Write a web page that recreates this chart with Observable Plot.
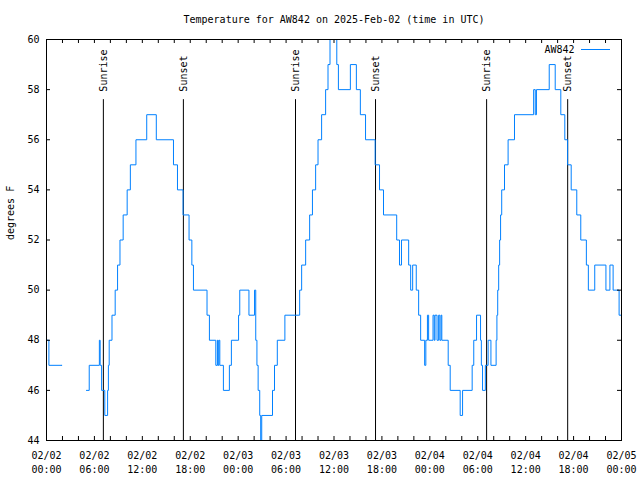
<!DOCTYPE html>
<html><head><meta charset="utf-8">
<script src="https://cdn.jsdelivr.net/npm/d3@7"></script>
<script src="https://cdn.jsdelivr.net/npm/@observablehq/plot@0.6"></script>
<style>body{margin:0;background:#fff}#chart svg{display:block}</style>
</head><body><div id="chart"></div>
<script>
const titleText = "Temperature for AW842 on 2025-Feb-02 (time in UTC)";
const seriesName = "AW842";
const yLabel = "degrees F";
// hours since 2025-02-02 00:00 UTC, and temperature (F) from that time on (step)
const hours = [0.00,0.30,1.95,2.00,5.00,5.35,6.62,6.72,6.90,7.30,7.65,7.75,7.85,8.20,8.60,8.90,9.20,9.60,10.10,10.50,11.20,12.55,13.75,15.90,16.40,17.10,17.85,18.20,18.40,20.10,20.40,21.20,21.40,21.48,21.58,21.70,22.15,22.90,23.15,24.05,24.20,25.35,26.05,26.20,26.35,26.50,26.70,26.82,26.95,28.30,28.55,28.90,29.85,31.70,31.95,32.45,32.95,33.30,33.70,34.00,34.45,34.95,35.25,35.50,36.35,36.55,38.05,38.80,39.30,39.95,41.15,41.70,42.20,43.85,44.20,44.45,45.35,45.60,45.85,46.30,46.60,46.85,47.35,47.50,47.70,47.85,48.40,48.55,48.65,48.90,49.10,49.25,49.40,49.50,50.30,50.55,51.80,52.10,53.30,53.50,53.85,54.35,54.45,54.60,54.95,55.30,55.65,56.30,56.40,56.50,56.62,56.74,56.86,57.00,57.35,57.80,58.60,61.00,61.20,61.35,62.95,63.70,64.40,64.90,65.25,65.70,66.40,66.90,67.60,67.85,68.65,70.05,70.55,70.95,71.70,72.00];
const temps = [48,47,47,NaN,46,47,48,47,46,45,46,47,48,49,50,51,52,53,54,55,56,57,56,55,54,53,52,51,50,49,48,47,48,47,48,47,46,47,48,49,50,49,50,48,47,46,45,44,45,46,47,48,49,50,51,52,53,54,55,56,57,58,59,60,59,58,59,58,57,56,55,54,53,52,51,52,51,50,51,50,49,48,47,48,49,48,49,48,49,48,49,48,49,48,47,46,45,46,47,48,49,48,47,46,47,48,47,48,49,50,51,52,53,54,55,56,57,58,57,58,59,58,57,56,55,54,53,52,51,50,51,50,51,50,49,49];
const sunHours = [7.12, 17.14, 31.18, 41.20, 55.11, 65.26];
const sunLabels = ["Sunrise","Sunset","Sunrise","Sunset","Sunrise","Sunset"];
const sunLineTop = 57.6;
const sunLabelY = 57.92;
const yTicks = [44,46,48,50,52,54,56,58,60];
const xTickHours = [0,6,12,18,24,30,36,42,48,54,60,66,72];
const xMinorHours = [0,2,4,6,8,10,12,14,16,18,20,22,24,26,28,30,32,34,36,38,40,42,44,46,48,50,52,54,56,58,60,62,64,66,68,70,72];
const t0 = Date.UTC(2025, 1, 2);
const toDate = h => new Date(t0 + h * 3600e3);

const data = hours.map((h, i) => ({t: toDate(h), v: temps[i]}));
const sun = sunHours.map((h, i) => ({t: toDate(h), label: sunLabels[i]}));
const xTicks = xTickHours.map(toDate);
const xMinor = xMinorHours.map(toDate);
const font = "DejaVu Sans Mono, monospace";
const blue = "#0080ff";
const W = 640, H = 480, mL = 46, mR = 19, mT = 39, mB = 40;
const fw = W - mL - mR, fh = H - mT - mB;

const chart = Plot.plot({
  width: W, height: H,
  marginLeft: mL, marginRight: mR, marginTop: mT, marginBottom: mB,
  style: {fontFamily: font, fontSize: "10px", color: "black", background: "white"},
  x: {type: "utc", domain: [toDate(0), toDate(72)]},
  y: {domain: [44, 60]},
  marks: [
    Plot.ruleX(sun, {x: "t", y1: 44, y2: sunLineTop, stroke: "black"}),
    Plot.text(sun, {x: "t", y: sunLabelY, text: "label", rotate: -90, textAnchor: "start", fontSize: 10, fill: "black"}),
    Plot.line(data, {x: "t", y: "v", curve: "step-after", stroke: blue, strokeWidth: 1}),
    Plot.tickX(xMinor, {x: d => d, insetTop: fh - 4, stroke: "black"}),
    Plot.tickX(xMinor, {x: d => d, insetBottom: fh - 4, stroke: "black"}),
    Plot.tickY(yTicks, {y: d => d, insetRight: fw - 4, stroke: "black"}),
    Plot.tickY(yTicks, {y: d => d, insetLeft: fw - 4, stroke: "black"}),
    Plot.frame({stroke: "black"}),
    Plot.axisX({ticks: xTicks, tickFormat: d3.utcFormat("%m/%d\n%H:%M"), tickSize: 0, tickPadding: 8.5, lineHeight: 1.4, fontSize: 10, label: null}),
    Plot.axisY({ticks: yTicks, tickSize: 0, tickPadding: 7, fontSize: 10, label: null}),
    Plot.text([titleText], {frameAnchor: "top", lineAnchor: "middle", dy: -20, fontSize: 10, fill: "black"}),
    Plot.text([yLabel], {frameAnchor: "left", lineAnchor: "middle", dx: -36, rotate: -90, fontSize: 10, fill: "black"}),
    Plot.text([seriesName], {frameAnchor: "top-right", lineAnchor: "middle", textAnchor: "end", dx: -47, dy: 10.5, fontSize: 10, fill: "black"})
  ]
});
document.getElementById("chart").appendChild(chart);
// legend line sample, positioned relative to the plot frame
const xr = chart.scale("x").range, yr = chart.scale("y").range;
const frameRight = Math.max(...xr), frameTop = Math.min(...yr);
d3.select(chart).append("line")
  .attr("x1", frameRight - 40).attr("x2", frameRight - 11)
  .attr("y1", frameTop + 10.5).attr("y2", frameTop + 10.5)
  .attr("stroke", blue).attr("stroke-width", 1);
</script>
</body></html>
